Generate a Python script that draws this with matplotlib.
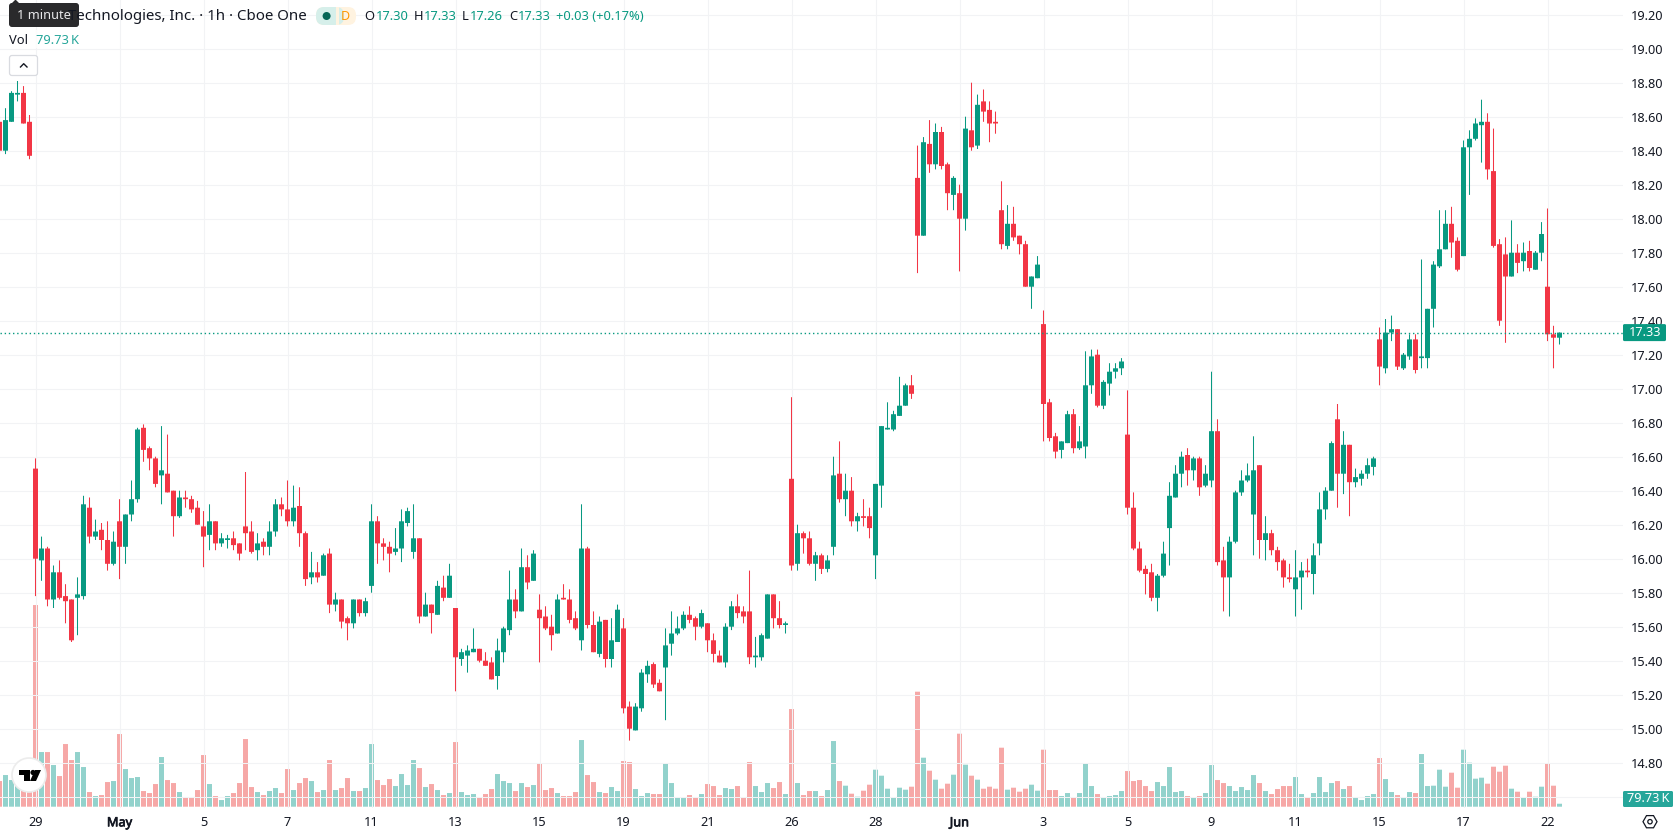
import matplotlib
matplotlib.use("Agg")
import matplotlib.pyplot as plt
import matplotlib.patheffects as pe
from matplotlib.patches import FancyBboxPatch, Rectangle, Circle, Polygon
import numpy as np

# Hourly bars; the first six precede the gap at the "29" session
opens = [
    18.57,18.40,18.57,18.73,18.74,18.57,
    16.53,15.99,16.06,15.76,15.92,15.78,15.76,15.77,15.78,16.30,
    16.13,16.17,16.11,15.97,16.22,16.07,16.26,16.35,16.77,16.65,
    16.59,16.49,16.50,16.40,16.25,16.36,16.35,16.30,16.19,16.14,
    16.22,16.09,16.11,16.12,16.09,16.19,16.16,16.05,16.10,16.07,
    16.16,16.32,16.29,16.22,16.31,16.15,15.89,15.92,15.90,16.03,
    15.73,15.76,15.65,15.62,15.76,15.68,15.84,16.22,16.09,16.07,
    16.04,16.06,16.21,16.04,16.12,15.66,15.73,15.67,15.83,15.77,
    15.71,15.41,15.43,15.45,15.47,15.40,15.39,15.31,15.45,15.58,
    15.76,15.69,15.95,15.87,15.70,15.66,15.60,15.56,15.77,15.76,
    15.65,15.52,16.06,15.61,15.44,15.64,15.41,15.51,15.59,15.13,
    14.99,15.12,15.32,15.38,15.27,15.36,15.50,15.56,15.59,15.67,
    15.65,15.60,15.62,15.52,15.43,15.39,15.60,15.72,15.69,15.69,
    15.42,15.42,15.53,15.79,15.65,15.61,16.47,15.97,16.15,16.12,
    15.97,16.02,15.94,16.07,16.50,16.35,16.40,16.22,16.25,16.25,
    16.02,16.43,16.76,16.76,16.84,16.90,17.02,18.24,17.90,18.44,
    18.32,18.51,18.32,18.14,18.15,18.00,18.52,18.43,18.69,18.64,
    18.57,18.05,17.84,17.97,17.90,17.85,17.60,17.65,17.38,16.92,
    16.72,16.64,16.68,16.85,16.65,16.66,17.02,17.20,16.90,17.03,
    17.10,17.12,16.73,16.30,16.06,15.94,15.92,15.77,15.90,16.18,
    16.36,16.50,16.61,16.52,16.59,16.43,16.46,16.75,15.99,15.89,
    16.10,16.39,16.46,16.26,16.55,16.11,16.15,16.05,15.99,15.89,
    15.82,15.89,15.93,15.91,16.09,16.29,16.40,16.82,16.50,16.67,
    16.45,16.47,16.50,16.54,17.29,17.12,17.33,17.35,17.12,17.19,
    17.29,17.18,17.18,17.47,17.72,17.82,17.97,17.87,17.78,18.42,
    18.47,18.55,18.57,18.28,17.85,17.79,17.66,17.80,17.75,17.81,
    17.70,17.80,17.60,17.32,17.30,
]
highs = [
    18.60,18.65,18.75,18.81,18.78,18.61,
    16.59,16.13,16.07,15.96,15.99,15.85,15.76,15.89,16.37,16.36,
    16.23,16.21,16.22,16.16,16.35,16.26,16.46,16.77,16.79,16.66,
    16.60,16.78,16.73,16.40,16.40,16.40,16.37,16.34,16.28,16.32,
    16.22,16.15,16.14,16.16,16.09,16.51,16.22,16.15,16.12,16.22,
    16.35,16.36,16.46,16.43,16.42,16.16,16.04,15.98,16.03,16.06,
    15.80,15.76,15.66,15.76,15.76,15.77,16.32,16.25,16.12,16.10,
    16.18,16.29,16.30,16.32,16.12,15.80,15.73,15.87,15.90,15.97,
    15.71,15.47,15.49,15.59,15.47,15.45,15.42,15.53,15.60,15.93,
    15.82,16.06,16.02,16.05,15.79,15.72,15.67,15.79,15.85,15.82,
    15.69,16.32,16.07,15.69,15.66,15.64,15.65,15.73,15.65,15.16,
    15.15,15.35,15.40,15.39,15.29,15.59,15.69,15.66,15.69,15.72,
    15.66,15.70,15.62,15.56,15.46,15.62,15.75,15.79,15.72,15.93,
    15.54,15.56,15.79,15.79,15.75,15.63,16.95,16.20,16.16,16.16,
    16.04,16.03,16.02,16.60,16.69,16.50,16.48,16.27,16.35,16.30,
    16.44,16.78,16.92,16.87,17.07,17.03,17.08,18.43,18.48,18.58,
    18.56,18.54,18.33,18.25,18.20,18.60,18.80,18.73,18.76,18.69,
    18.63,18.22,18.08,18.07,17.90,17.87,17.66,17.78,17.46,16.94,
    16.74,16.69,16.87,16.88,16.78,17.22,17.23,17.23,17.05,17.15,
    17.15,17.18,16.99,16.39,16.10,15.96,15.97,15.91,16.10,16.45,
    16.55,16.63,16.65,16.60,16.60,16.55,17.10,16.82,16.07,16.13,
    16.40,16.52,16.56,16.72,16.55,16.25,16.17,16.07,16.00,15.97,
    16.05,15.98,16.00,16.09,16.39,16.42,16.69,16.91,16.75,16.67,
    16.53,16.52,16.59,16.60,17.36,17.41,17.43,17.35,17.21,17.32,
    17.32,17.76,17.47,17.75,18.05,18.05,18.07,17.89,18.46,18.52,
    18.59,18.70,18.62,18.53,17.88,17.89,17.99,17.85,17.86,17.87,
    17.81,17.98,18.06,17.37,17.33,
]
lows = [
    18.38,18.38,18.57,18.69,18.56,18.35,
    15.78,15.87,15.72,15.71,15.76,15.62,15.51,15.55,15.76,16.09,
    16.11,16.05,15.93,15.96,15.88,15.97,16.22,16.33,16.57,16.52,
    16.42,16.32,16.39,16.13,16.24,16.30,16.27,16.20,15.95,16.05,
    16.05,16.07,16.06,16.05,15.99,16.05,16.03,15.99,16.02,16.02,
    16.13,16.25,16.19,16.19,16.07,15.84,15.85,15.86,15.90,15.68,
    15.69,15.59,15.52,15.59,15.66,15.66,15.80,15.97,15.99,15.92,
    16.02,15.98,16.19,16.00,15.62,15.66,15.56,15.67,15.75,15.77,
    15.22,15.37,15.33,15.45,15.39,15.37,15.29,15.23,15.39,15.55,
    15.65,15.69,15.82,15.87,15.39,15.58,15.46,15.56,15.76,15.62,
    15.58,15.46,15.59,15.45,15.42,15.36,15.36,15.51,15.09,14.93,
    14.99,15.10,15.27,15.24,15.22,15.05,15.43,15.55,15.58,15.62,
    15.52,15.59,15.45,15.39,15.39,15.36,15.58,15.65,15.62,15.38,
    15.36,15.40,15.53,15.59,15.59,15.56,15.93,15.93,16.03,15.96,
    15.87,15.91,15.92,16.02,16.33,16.25,16.19,16.16,16.19,16.12,
    15.88,16.30,16.76,16.75,16.84,16.90,16.94,17.68,17.90,18.27,
    18.29,18.29,18.05,18.05,17.69,17.93,18.40,18.41,18.57,18.45,
    18.50,17.82,17.82,17.87,17.79,17.60,17.47,17.65,16.69,16.69,
    16.59,16.59,16.68,16.62,16.64,16.59,16.97,16.89,16.88,16.96,
    17.06,17.08,16.26,16.05,15.92,15.79,15.75,15.69,15.89,15.96,
    16.36,16.42,16.43,16.46,16.37,16.42,16.42,15.96,15.69,15.66,
    16.09,16.37,16.45,16.02,16.00,15.99,16.02,15.93,15.83,15.86,
    15.66,15.70,15.89,15.79,16.02,16.23,16.40,16.30,16.38,16.25,
    16.42,16.43,16.47,16.49,17.02,17.09,17.28,17.11,17.11,17.17,
    17.09,17.12,17.12,17.36,17.71,17.82,17.77,17.69,17.78,18.14,
    18.46,18.33,18.23,17.83,17.37,17.27,17.66,17.68,17.69,17.69,
    17.70,17.75,17.28,17.12,17.26,
]
closes = [
    18.40,18.58,18.74,18.74,18.56,18.37,
    16.00,16.06,15.76,15.92,15.77,15.75,15.52,15.79,16.32,16.13,
    16.16,16.11,15.97,16.10,16.07,16.26,16.35,16.76,16.64,16.59,
    16.44,16.52,16.39,16.25,16.36,16.35,16.29,16.20,16.13,16.22,
    16.09,16.12,16.12,16.08,16.03,16.15,16.04,16.09,16.07,16.16,
    16.32,16.29,16.22,16.30,16.15,15.88,15.92,15.89,16.02,15.73,
    15.76,15.63,15.62,15.76,15.68,15.75,16.22,16.09,16.07,16.03,
    16.06,16.22,16.28,16.12,15.66,15.73,15.68,15.84,15.77,15.90,
    15.42,15.45,15.46,15.47,15.40,15.37,15.29,15.46,15.59,15.76,
    15.69,15.95,15.86,16.03,15.65,15.59,15.55,15.76,15.76,15.64,
    15.59,16.06,15.61,15.45,15.63,15.41,15.52,15.70,15.12,15.00,
    15.13,15.33,15.37,15.26,15.22,15.49,15.56,15.59,15.67,15.64,
    15.60,15.68,15.52,15.44,15.39,15.60,15.72,15.68,15.66,15.42,
    15.43,15.55,15.79,15.65,15.61,15.62,15.96,16.15,16.12,15.97,
    16.02,15.94,15.99,16.49,16.35,16.40,16.22,16.25,16.24,16.18,
    16.44,16.78,16.77,16.85,16.90,17.02,16.97,17.90,18.45,18.32,
    18.51,18.31,18.15,18.24,18.00,18.53,18.42,18.67,18.63,18.56,
    18.56,17.85,17.97,17.89,17.85,17.60,17.66,17.73,16.91,16.71,
    16.63,16.69,16.85,16.65,16.69,17.02,17.19,16.90,17.04,17.10,
    17.12,17.16,16.30,16.06,15.93,15.91,15.77,15.90,16.03,16.37,
    16.50,16.60,16.52,16.59,16.42,16.50,16.75,15.98,15.89,16.10,
    16.39,16.46,16.49,16.52,16.11,16.15,16.05,15.98,15.89,15.88,
    15.89,15.93,15.92,16.02,16.29,16.40,16.68,16.50,16.67,16.45,
    16.48,16.50,16.55,16.59,17.13,17.33,17.35,17.13,17.20,17.29,
    17.11,17.19,17.47,17.73,17.82,17.97,17.86,17.70,18.42,18.47,
    18.56,18.57,18.29,17.84,17.40,17.66,17.80,17.74,17.80,17.71,
    17.80,17.91,17.32,17.30,17.33,
]
# Volume per bar, in thousands of shares
volumes_k = [
    693,855,720,792,495,405,
    5445,1476,1476,1125,828,1692,1260,1476,1071,396,
    288,315,666,693,1962,1017,774,801,423,369,
    612,1341,720,639,396,261,261,450,1395,612,
    288,180,288,369,639,1827,531,396,315,423,
    504,369,1017,450,639,774,693,396,450,1260,
    450,504,774,423,423,504,1692,720,585,747,
    558,882,585,1260,1044,531,612,450,315,369,
    1746,396,315,342,261,342,477,882,693,639,
    423,639,531,585,1179,450,504,369,288,288,
    396,1800,855,666,396,369,531,423,1233,1206,
    477,288,369,342,342,1179,639,261,234,315,
    261,342,612,558,315,504,477,558,261,1206,
    558,396,639,504,666,342,2637,639,315,423,
    423,288,450,1773,693,567,351,270,432,594,
    999,837,486,243,513,459,540,3105,1323,972,
    729,486,621,864,1971,1134,837,729,486,540,
    486,1593,459,513,405,486,594,432,1539,450,
    450,288,369,261,369,1179,558,342,261,288,
    315,423,963,693,720,558,423,666,558,1071,
    396,423,288,261,288,369,1125,720,639,558,
    423,531,450,855,639,423,342,477,558,558,
    801,342,261,369,801,396,639,693,477,558,
    261,180,288,342,1314,747,396,315,234,396,
    369,1422,558,567,999,540,918,513,1539,1188,
    756,783,621,1080,945,1107,486,405,243,405,
    270,540,1161,567,79.73,
]
first_bar = -6
time_labels = ["29","May","5","7","11","13","15","19","21","26","28","Jun","3","5","9","11","15","17","22"]
bold_labels = {"May", "Jun"}
price_ticks = [19.2,19.0,18.8,18.6,18.4,18.2,18.0,17.8,17.6,17.4,17.2,17.0,16.8,16.6,16.4,16.2,16.0,
               15.8,15.6,15.4,15.2,15.0,14.8]
grid_prices = price_ticks + [14.6]

W, H = 1678, 835
PANE_R, PANE_B = 1623, 808
BAR_PX, X0_PX = 6.0, 35.5
PX_PER_PRICE, Y17_PX = 170.0, 388.7
VOL_BASE_PX, K_PER_PX = 806.7, 27.0

UP, DOWN = "#089981", "#f23645"
VOL_UP, VOL_DOWN = "#26a69a", "#ef5350"
INK = "#131722"
GRID = "#f2f3f5"

plt.rcParams["font.family"] = ["Noto Sans", "DejaVu Sans"]

o, h, l, c = map(np.array, (opens, highs, lows, closes))
vol = np.array(volumes_k, dtype=float)
x = first_bar + np.arange(len(o))
rising = c >= o
candle_col = np.where(rising, UP, DOWN)
vol_col = np.where(rising, VOL_UP, VOL_DOWN)

fig = plt.figure(figsize=(W / 100, H / 100), dpi=100, facecolor="white")
ax = fig.add_axes([0, 1 - PANE_B / H, PANE_R / W, PANE_B / H])
ax.set_xlim((0 - X0_PX) / BAR_PX, (PANE_R - X0_PX) / BAR_PX)
ax.set_ylim(17 + (Y17_PX - PANE_B) / PX_PER_PRICE, 17 + Y17_PX / PX_PER_PRICE)
for s in ax.spines.values():
    s.set_visible(False)

# Volume pane shares the x axis, with its zero at the pane's base line
vax = ax.twinx()
vax.set_ylim(-(PANE_B - VOL_BASE_PX) * K_PER_PX, VOL_BASE_PX * K_PER_PX)
vax.axis("off")
vbars = vax.bar(x, vol, width=5 / 6, color=vol_col, alpha=0.5, lw=0, zorder=1)
for bar in vbars:
    bar.set_snap(False)
vax.set_zorder(0.5)
ax.set_zorder(1)
ax.patch.set_visible(False)

# Grid and axis labels
time_pos = np.arange(len(time_labels)) * 14
ax.set_xticks(time_pos)
ax.set_xticklabels(time_labels)
for lab in ax.get_xticklabels():
    if lab.get_text() in bold_labels:
        lab.set_fontweight("bold")
        lab.set_path_effects([pe.withStroke(linewidth=0.5, foreground=INK)])
ax.yaxis.tick_right()
ax.set_yticks(price_ticks)
ax.set_yticklabels([f"{p:.2f}" for p in price_ticks])
ax.tick_params(axis="both", length=0, labelsize=9.2, labelcolor=INK)
ax.tick_params(axis="y", pad=5.8)
ax.tick_params(axis="x", pad=6.0)
for xp in time_pos:
    ax.axvline(xp, color=GRID, lw=0.75, zorder=0)
for yp in grid_prices:
    ax.axhline(yp, color=GRID, lw=0.75, zorder=0)

# Candles
wicks = ax.vlines(x, l, h, colors=candle_col, lw=0.74, zorder=2)
wicks.set_snap(False)
bodies = ax.bar(x, np.abs(c - o), bottom=np.minimum(o, c), width=5 / 6, color=candle_col, lw=0, zorder=3)
for bar in bodies:
    bar.set_snap(False)

# Last-price line
last_close = c[-1]
ax.axhline(last_close, color=UP, lw=1.0, ls=(0, (1, 2)), zorder=4)

# Interface layer drawn in pixel coordinates
ui = fig.add_axes([0, 0, 1, 1], zorder=5)
ui.set_xlim(0, W)
ui.set_ylim(H, 0)
ui.axis("off")
ui.patch.set_visible(False)


def rounded(x0, y0, x1, y1, r, **kw):
    p = FancyBboxPatch((x0 + r, y0 + r), x1 - x0 - 2 * r, y1 - y0 - 2 * r,
                       boxstyle=f"round,pad={r},rounding_size={r}", **kw)
    ui.add_patch(p)
    return p


# Price and volume scale labels
py = Y17_PX + (17 - last_close) * PX_PER_PRICE
rounded(1623, py - 8.5, 1666, py + 8.5, 1.5, fc=UP, ec="none")
ui.text(1645, py - 0.5, f"{last_close:.2f}", color="white", fontsize=9.2, ha="center", va="center")
rounded(1623, 791, 1673, 807, 1.5, fc=VOL_UP, ec="none")
ui.text(1648.5, 798.5, "79.73\u2009K", color="white", fontsize=9.2, ha="center", va="center")

# Settings hexagon
hx = 1650 + 7 * np.array([1, .5, -.5, -1, -.5, .5])
hy = 821.7 + 7 * np.array([0, .87, .87, 0, -.87, -.87])
ui.add_patch(Polygon(np.c_[hx, hy], closed=True, fc="white", ec=INK, lw=0.9))
ui.add_patch(Circle((1650, 821.7), 2.2, fc="white", ec=INK, lw=0.9))

# Legend lines
ui.text(307, 16.3, "Technologies, Inc. · 1h · Cboe One", color=INK, fontsize=10.8, ha="right", va="center")
rounded(316, 7, 356, 25, 8, fc="#fff3e0", ec="none")
ui.add_patch(FancyBboxPatch((324, 15), 12, 2, boxstyle="round,pad=8,rounding_size=8", fc="#d6efea", ec="none"))
ui.add_patch(Rectangle((336, 7), 3, 18, fc="#fff3e0", ec="none"))
ui.add_patch(Circle((326.6, 16), 4, fc="#056656", ec="none"))
ui.text(345, 16, "D", color="#ff9800", fontsize=9, fontweight="bold", ha="center", va="center")
legend_items = [(364, "O", INK), (376, "17.30", UP), (414, "H", INK), (424, "17.33", UP), (462, "L", INK),
                (470, "17.26", UP), (509, "C", INK), (518, "17.33", UP), (555.5, "+0.03 (+0.17%)", UP)]
for lx, txt, col in legend_items:
    ui.text(lx, 16.3, txt, color=col, fontsize=9.3, ha="left", va="center")
ui.add_patch(Rectangle((0, 30), 84, 18, fc="white", ec="none", alpha=0.8))
ui.text(9, 40.3, "Vol", color=INK, fontsize=9.3, ha="left", va="center")
ui.text(36, 40.3, "79.73\u2009K", color=VOL_UP, fontsize=9.3, ha="left", va="center")

# Collapse button
rounded(9.5, 55.5, 37.5, 75.5, 2.5, fc="white", ec="#d9dbe0", lw=0.9)
ui.plot([20.5, 23.7, 27], [67, 63.7, 67], color=INK, lw=1.0)

# Tooltip
rounded(9, 3, 79, 27, 3, fc="#2a2a2c", ec="none")
ui.add_patch(Polygon([[11, 4], [15.5, -0.5], [20, 4]], closed=True, fc="#2a2a2c", ec="none"))
ui.text(44, 15.5, "1 minute", color="#e8e8ea", fontsize=9.2, ha="center", va="center")

# Brand badge
ui.add_patch(Circle((29, 775), 17, fc="white", ec="#ececec", lw=1.2))
ui.add_patch(Polygon([[19, 770], [30, 770], [30, 781], [24, 781], [24, 775], [19, 775]], closed=True, fc="black", ec="none"))
ui.add_patch(Circle((33, 772.5), 2.6, fc="black", ec="none"))
ui.add_patch(Polygon([[35, 770], [41, 770], [36, 781], [30, 781]], closed=True, fc="black", ec="none"))

fig.savefig("out.png", dpi=100, facecolor="white")
